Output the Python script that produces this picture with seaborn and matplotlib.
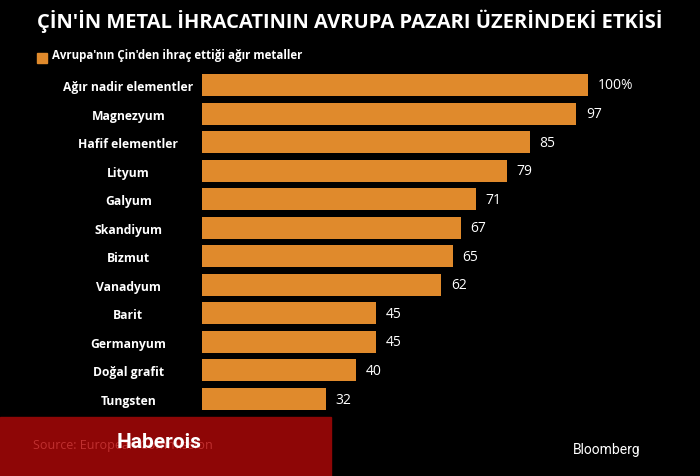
import matplotlib
matplotlib.use("Agg")
import matplotlib.pyplot as plt
import seaborn as sns
import pandas as pd
from matplotlib.patches import Rectangle

metals = ["Ağır nadir elementler", "Magnezyum", "Hafif elementler", "Lityum", "Galyum",
          "Skandiyum", "Bizmut", "Vanadyum", "Barit", "Germanyum", "Doğal grafit", "Tungsten"]
values = [100, 97, 85, 79, 71, 67, 65, 62, 45, 45, 40, 32]
labels = ["100%", "97", "85", "79", "71", "67", "65", "62", "45", "45", "40", "32"]

df = pd.DataFrame({"metal": metals, "value": values})
orange = "#E08A2C"
font = "Open Sans"

fig = plt.figure(figsize=(7, 4.77), dpi=100, facecolor="black")
ax = fig.add_axes([202/700, 1-414.3/477, 386/700, (414.3-71.7)/477])
ax.set_facecolor("black")
sns.barplot(data=df, x="value", y="metal", color=orange, saturation=1, width=0.77, ax=ax)
ax.set_xlim(0, 100)
ax.set_ylim(len(metals)-0.5, -0.5)
for s in ax.spines.values():
    s.set_visible(False)
ax.set_xticks([])
ax.set_xlabel("")
ax.set_ylabel("")
ax.tick_params(axis="y", length=0, pad=53)
for t in ax.get_yticklabels():
    t.set_color("white"); t.set_fontweight("bold"); t.set_fontsize(8.7); t.set_fontfamily(font)
    t.set_horizontalalignment("center")
for i, (v, l) in enumerate(zip(values, labels)):
    ax.text(v + 2.5, i, l, color="white", va="center", ha="left", fontsize=10, fontfamily=font)

fig.text(0.5, 0.955, "ÇİN'İN METAL İHRACATININ AVRUPA PAZARI ÜZERİNDEKİ ETKİSİ",
         color="white", fontsize=14.5, fontweight="bold", ha="center", va="center", fontfamily=font)
fig.patches.append(Rectangle((37/700, 1-64/477), 10/700, 10/477, transform=fig.transFigure,
                             color=orange))
fig.text(52/700, 1-56/477, "Avrupa'nın Çin'den ihraç ettiği ağır metaller", color="white",
         fontsize=8.3, fontweight="bold", va="center", fontfamily=font)
fig.patches.append(Rectangle((0, 0), 331/700, 59/477, transform=fig.transFigure,
                             color="#8E0606", zorder=0))
fig.text(33/700, 1-446/477, "Source: European Commission", color="#C03030", fontsize=9,
         va="center", fontfamily=font)
fig.text(117/700, 1-442/477, "Haberois", color="white", fontsize=15, fontweight="bold",
         va="center", fontfamily="Roboto", zorder=5)
fig.text(573/700, 1-450/477, "Bloomberg", color="white", fontsize=10, va="center",
         fontfamily="Roboto")

fig.savefig("out.png", dpi=100, facecolor="black")
